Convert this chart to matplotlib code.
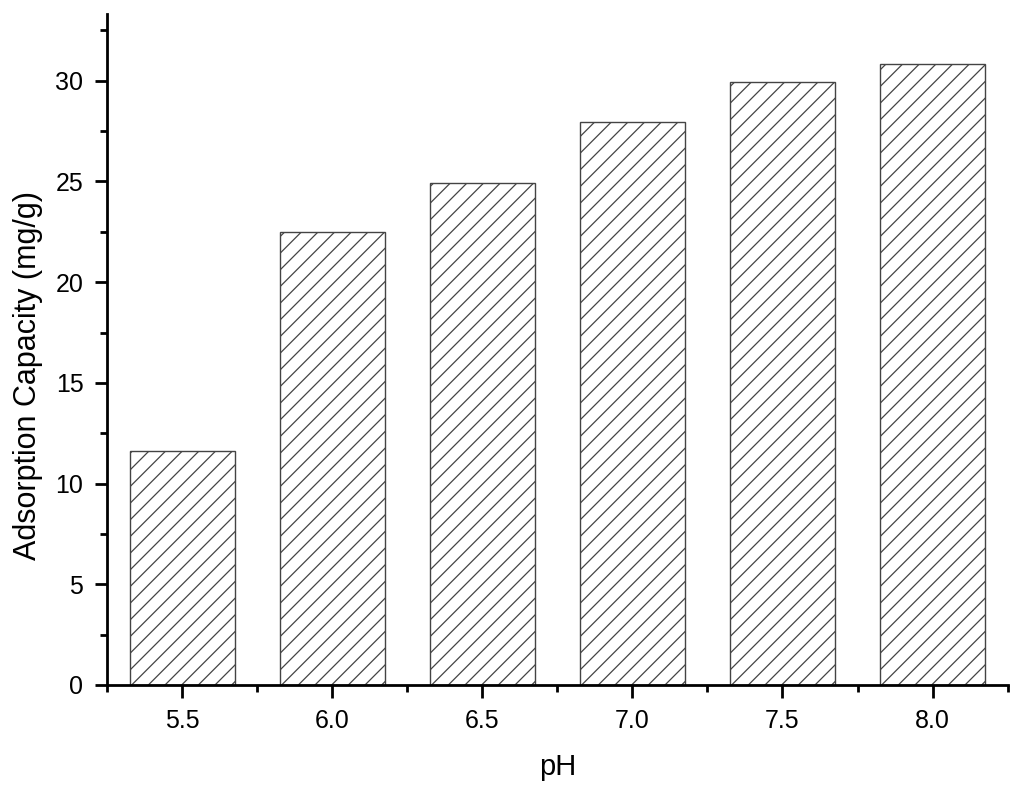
import matplotlib.pyplot as plt
from matplotlib.ticker import MultipleLocator

plt.rcParams['font.family'] = ['Liberation Sans', 'DejaVu Sans']
plt.rcParams['hatch.color'] = '#606060'
plt.rcParams['hatch.linewidth'] = 0.9

# data
ph = [5.5, 6.0, 6.5, 7.0, 7.5, 8.0]
capacity = [11.6, 22.5, 24.9, 27.97, 29.93, 30.83]
tick_labels = ['5.5', '6.0', '6.5', '7.0', '7.5', '8.0']

fig = plt.figure(figsize=(10.24, 7.95), dpi=100)
ax = fig.add_axes([0.1045, 0.1384, 0.8795, 0.8436])

ax.bar(ph, capacity, width=0.35, color='white', edgecolor='#444444',
       linewidth=1.0, hatch='//')

ax.set_xlim(5.25, 8.25)
ax.set_ylim(0, 33.3)
ax.set_xticks(ph)
ax.set_xticklabels(tick_labels)
ax.xaxis.set_minor_locator(MultipleLocator(0.25))
ax.yaxis.set_major_locator(MultipleLocator(5))
ax.yaxis.set_minor_locator(MultipleLocator(2.5))

for side in ('top', 'right'):
    ax.spines[side].set_visible(False)
for side in ('left', 'bottom'):
    ax.spines[side].set_linewidth(2)

ax.tick_params(which='major', direction='out', length=9, width=2,
               labelsize=18, pad=8)
ax.tick_params(which='minor', direction='out', length=5, width=2)

ax.set_xlabel('pH', fontsize=21, labelpad=15)
ax.set_ylabel('Adsorption Capacity (mg/g)', fontsize=22)
ax.yaxis.set_label_coords(-0.071, 0.462)

fig.savefig('out.png', dpi=100)
